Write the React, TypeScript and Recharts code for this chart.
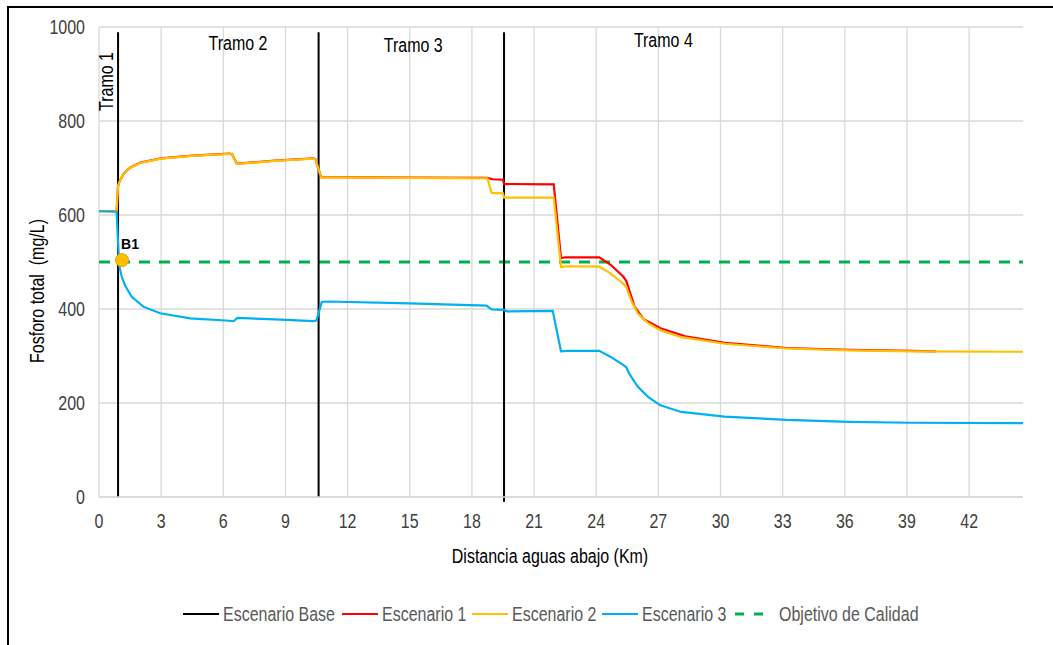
import React from 'react';
import { LineChart, Line, XAxis, YAxis, CartesianGrid, ReferenceLine, ReferenceDot } from 'recharts';

// Distance downstream (km) and total phosphorus (mg/L)
const escenario1: [number, number][] = [
  [0, 608.5], [0.85, 608.5], [0.92, 662.5], [1.0, 672.5], [1.2, 688.5], [1.5, 700.5], [2.0, 711.5], [3.0, 720.5], [4.5, 726.5],
  [6.3, 730.5], [6.42, 729.5], [6.65, 709.5], [7.0, 710.5], [8.5, 715.5], [10.35, 720.5], [10.45, 718.5], [10.72, 680.5], [11, 680.5],
  [15, 679.5], [18.75, 679], [19.0, 676], [19.5, 675], [19.55, 666], [21.95, 665], [22.3, 508], [22.5, 510], [24.15, 510],
  [24.7, 494], [25.3, 469], [25.45, 460], [25.85, 405], [26.3, 378], [27.1, 359], [28.3, 342], [30.2, 328], [33.2, 317],
  [36.2, 313], [39.2, 311], [40.4, 310],
];
const escenario2: [number, number][] = [
  [0, 608], [0.85, 608], [0.92, 662], [1.0, 672], [1.2, 688], [1.5, 700], [2.0, 711], [3.0, 720], [4.5, 726],
  [6.3, 730], [6.42, 729], [6.65, 709], [7.0, 710], [8.5, 715], [10.35, 720], [10.45, 718], [10.72, 680], [11, 680],
  [15, 679], [18.75, 678], [18.95, 647], [19.5, 646], [19.55, 637], [21.95, 637], [22.3, 489], [22.6, 491], [24.15, 490],
  [24.65, 477], [25.2, 458], [25.45, 447], [25.7, 417], [26.0, 391], [26.5, 370], [27.1, 355], [28.1, 340], [30.2, 326],
  [33.2, 316], [36.2, 312], [39.2, 310], [44.6, 309],
];
const escenario3: [number, number][] = [
  [0, 608], [0.85, 607], [0.92, 540], [0.98, 492], [1.1, 468], [1.26, 450], [1.58, 426], [2.14, 405], [2.95, 391],
  [4.4, 380], [6.3, 375], [6.5, 374], [6.68, 381], [8.5, 378], [10.35, 374], [10.5, 376], [10.75, 415], [11.0, 416],
  [15, 412], [18.7, 407], [18.95, 399], [19.55, 398], [19.7, 395], [21.9, 396], [22.3, 310], [22.6, 311], [24.15, 311],
  [24.7, 298], [25.3, 281], [25.45, 276], [25.6, 262], [26.0, 235], [26.5, 213], [27.1, 195], [28.1, 181], [30.2, 171],
  [33.2, 164], [36.2, 160], [39.2, 158], [44.6, 157],
];
const objetivoCalidad = 500;
const tramoLimites = [0.92, 10.6, 19.55];
const tramoNombres = ['Tramo 1', 'Tramo 2', 'Tramo 3', 'Tramo 4'];
const xTicks = [0, 3, 6, 9, 12, 15, 18, 21, 24, 27, 30, 33, 36, 39, 42];
const yTicks = [0, 200, 400, 600, 800, 1000];
const puntoB1 = { name: 'B1', x: 1.11, y: 504 };
const legendNames = ['Escenario Base', 'Escenario 1', 'Escenario 2', 'Escenario 3', 'Objetivo de Calidad'];

const toRows = (arr: [number, number][]) => arr.map(([x, y]) => ({ x, y }));

const FONT = '"Liberation Sans", Arial, sans-serif';
const FS = 19.5;
const NARROW = 0.82;
const COLORS = ['#000000', '#FF0000', '#FFC000', '#00B0F0', '#00B050'];

// Annotation placement (chart units)
const tramoLabelPos = [
  { x: 0.34, y: 884, rotate: true },
  { x: 6.71, y: 964, rotate: false },
  { x: 15.17, y: 960, rotate: false },
  { x: 27.24, y: 972, rotate: false },
];

const NText = ({ x, y, anchor = 'middle', rotate = false, size = FS, fill = '#000', weight = 'normal', children }: any) => (
  <g transform={`translate(${x} ${y})${rotate ? ' rotate(-90)' : ''} scale(${NARROW} 1)`}>
    <text x={0} y={0} textAnchor={anchor} dominantBaseline="central" fontFamily={FONT} fontSize={size} fontWeight={weight} fill={fill} style={{ whiteSpace: 'pre' }}>
      {children}
    </text>
  </g>
);

const TextShape = (text: string, rotate: boolean) => (p: any) => (
  <NText x={p.cx} y={p.cy} rotate={rotate}>{text}</NText>
);

const B1Shape = (p: any) => (
  <g>
    <circle cx={p.cx} cy={p.cy} r={6.5} fill="#FFC000" stroke="#F5A000" strokeWidth={1} />
    <text x={p.cx + 8} y={p.cy - 16} textAnchor="middle" dominantBaseline="central" fontFamily={FONT} fontSize={14} fontWeight="bold" fill="#000">
      {puntoB1.name}
    </text>
  </g>
);

const XTick = (p: any) => (
  <NText x={p.x} y={p.y + 8} fill="#404040">{p.payload.value}</NText>
);
const YTick = (p: any) => (
  <NText x={p.x} y={p.y} anchor="end" fill="#404040">{p.payload.value}</NText>
);

// legend layout
const LEG_LINE = 36;
const LEG_GAP_LT = 4;
const LEG_GAP_TL = 9;
const legendTextW = [110, 81, 81, 82, 137];

const Legend = () => {
  let cx = 183;
  const items = legendNames.map((n, i) => {
    const x0 = cx;
    const tx = x0 + LEG_LINE + LEG_GAP_LT + (i === 4 ? 6 : 0);
    cx = tx + legendTextW[i] + LEG_GAP_TL;
    return (
      <g key={n}>
        {i === 4 ? (
          <line x1={x0 + 2} y1={614} x2={x0 + 30} y2={614} stroke={COLORS[i]} strokeWidth={2.8} strokeDasharray="9 10" />
        ) : (
          <line x1={x0} y1={614} x2={x0 + LEG_LINE} y2={614} stroke={COLORS[i]} strokeWidth={2} />
        )}
        <NText x={tx} y={614} anchor="start" fill="#595959">{n}</NText>
      </g>
    );
  });
  return (
    <svg width={1053} height={645} style={{ position: 'absolute', left: 0, top: 0, pointerEvents: 'none' }}>
      {items}
    </svg>
  );
};

export default function App() {
  return (
    <div style={{ position: 'absolute', left: 0, top: 0, width: 1053, height: 645, background: '#fff', overflow: 'hidden' }}>
      <div
        style={{
          position: 'absolute', left: 7, top: 6, width: 1046, height: 639,
          borderTop: '2px solid #000', borderLeft: '2px solid #000', boxSizing: 'border-box',
        }}
      />
      <div style={{ position: 'absolute', left: 0, top: 0 }}>
        <LineChart width={1053} height={645} margin={{ top: 27, right: 30, bottom: 108, left: 39 }}>
          <CartesianGrid stroke="#D9D9D9" strokeWidth={1.3} horizontalValues={yTicks} verticalValues={xTicks} />
          <XAxis
            dataKey="x"
            type="number"
            domain={[0, 44.6]}
            ticks={xTicks}
            allowDataOverflow
            tickLine={false}
            axisLine={{ stroke: '#D9D9D9', strokeWidth: 1.3 }}
            tickMargin={10}
            height={40}
            tick={XTick}
            label={() => <NText x={550} y={556}>Distancia aguas abajo (Km)</NText>}
          />
          <YAxis
            type="number"
            domain={[0, 1000]}
            ticks={yTicks}
            tickLine={false}
            axisLine={false}
            width={60}
            tickMargin={8}
            tick={YTick}
            label={() => <NText x={37} y={291} rotate>{'Fosforo total  (mg/L)'}</NText>}
          />
          <ReferenceLine y={objetivoCalidad} stroke={COLORS[4]} strokeWidth={2.8} strokeDasharray="11 9" />
          {tramoLimites.map((x, i) => (
            <ReferenceLine
              key={'t' + i}
              segment={[{ x, y: 989 }, { x, y: i === 2 ? -10 : 0 }]}
              stroke="#000"
              strokeWidth={2}
              ifOverflow="visible"
            />
          ))}
          <Line data={toRows(escenario1)} dataKey="y" stroke={COLORS[1]} strokeWidth={2.2} dot={false} isAnimationActive={false} />
          <Line data={toRows(escenario2)} dataKey="y" stroke={COLORS[2]} strokeWidth={2.2} dot={false} isAnimationActive={false} />
          <Line data={toRows(escenario3)} dataKey="y" stroke={COLORS[3]} strokeWidth={2.2} dot={false} isAnimationActive={false} />
          {tramoNombres.map((n, i) => (
            <ReferenceDot key={n} x={tramoLabelPos[i].x} y={tramoLabelPos[i].y} r={1} shape={TextShape(n, tramoLabelPos[i].rotate)} ifOverflow="visible" />
          ))}
          <ReferenceDot x={puntoB1.x} y={puntoB1.y} r={6} shape={B1Shape} ifOverflow="visible" />
        </LineChart>
      </div>
      <Legend />
    </div>
  );
}
